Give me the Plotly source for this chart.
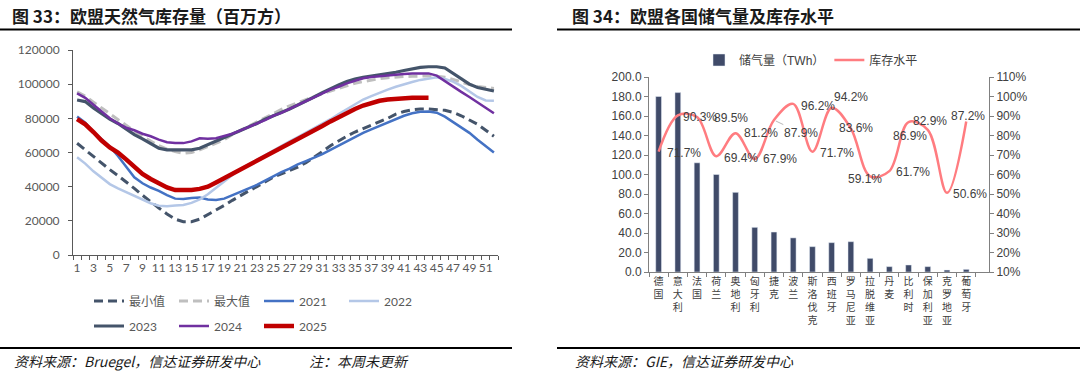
import plotly.graph_objects as go

# ---------------- Left chart data: EU gas storage (million m3) ----------------
weeks = list(range(1, 53))
week_tick_vals = weeks[::2]
week_tick_text = [str(w) for w in week_tick_vals]

min_vals = [65400, 61500, 57500, 53500, 50000, 46500, 43000, 39000, 35000, 31000,
            27500, 24000, 21000, 19500, 19500, 21000, 23500, 26000, 29000, 32000,
            35000, 37500, 40000, 43000, 45500, 47500, 49500, 51500, 54000, 57000,
            60500, 64000, 67000, 69500, 72000, 74000, 76000, 78000, 80000, 82500,
            84000, 85000, 85500, 85500, 85300, 84700, 83500, 81500, 79000, 76500,
            73000, 69500]
max_vals = [95500, 93000, 89500, 86000, 82500, 79000, 75500, 72500, 69500, 66500,
            64000, 62000, 60500, 59500, 60000, 61500, 63500, 65500, 67500, 70500,
            73000, 75500, 78000, 80500, 83000, 85200, 87300, 89300, 91000, 92700,
            94500, 96000, 97500, 99000, 100500, 101500, 102500, 103200, 103800, 104300,
            104500, 104600, 104800, 104800, 104600, 104000, 102800, 101200, 99800, 98700,
            98000, 97500]
y2021 = [81000, 77500, 72000, 67500, 63500, 58000, 52000, 45500, 42000, 39500,
         37500, 35000, 33000, 32800, 33300, 33600, 32500, 32200, 33000, 35000,
         37100, 39000, 41000, 43500, 46000, 48500, 50500, 53000, 55000, 57000,
         59000, 61500, 64000, 66500, 69000, 71500, 73500, 75500, 77500, 79500,
         81500, 83000, 83800, 84000, 83300, 81000, 78000, 75000, 71500, 67500,
         64000, 60000]
y2022 = [57200, 53500, 49000, 45000, 41500, 39000, 36800, 34800, 32500, 30300,
         28800, 28600, 29000, 29300, 30500, 32500, 35500, 39500, 43000, 46800,
         50500, 53000, 55800, 58500, 61000, 63800, 66500, 69000, 71500, 74000,
         76800, 79500, 82500, 85500, 88500, 91000, 93000, 95000, 96800, 98500,
         100000, 101300, 102500, 103400, 104000, 103000, 101500, 99000, 95500, 92500,
         90500, 90300]
y2023 = [90700, 89800, 86000, 82500, 79500, 77000, 73500, 70500, 68000, 65500,
         62500, 61500, 61500, 61300, 61500, 62500, 64500, 66500, 68500, 70500,
         72500, 75000, 77000, 79500, 81500, 83200, 85500, 87800, 90000, 92500,
         95000, 97500, 99500, 101500, 103000, 104000, 104700, 105200, 106200, 107000,
         108000, 109000, 109800, 110200, 110200, 109500, 106500, 103000, 100000, 98000,
         96800, 96000]
y2024 = [94600, 92000, 88000, 84000, 80000, 77000, 74500, 73000, 71000, 69500,
         67500, 66000, 65500, 65500, 66500, 68300, 68000, 68300, 69500, 71000,
         73000, 75000, 77000, 79000, 81500, 83200, 85500, 87800, 90000, 92300,
         94500, 96800, 98500, 100500, 102000, 103500, 104200, 104700, 105300, 105700,
         106000, 106300, 106300, 106300, 105000, 102000, 98500, 95500, 92500, 89500,
         86000, 83000]
y2025 = [79500, 76500, 72000, 67000, 63000, 60000, 56000, 51500, 47500, 44500,
         42000, 39500, 38000, 37800, 38000, 38700, 40000, 42500, 45000, 47500,
         50000, 52500, 54800, 57500, 60000, 62600, 65300, 68000, 70500, 73000,
         75500, 78200, 80800, 83200, 85500, 87500, 89000, 90300, 91000, 91500,
         91800, 92000, 92000, 92000]

series_names = ["最小值", "最大值", "2021", "2022", "2023", "2024", "2025"]
series_values = [min_vals, max_vals, y2021, y2022, y2023, y2024, y2025]

# ---------------- Right chart data: storage by country ----------------
countries = ["德国", "意大利", "法国", "荷兰", "奥地利", "匈牙利", "捷克", "波兰", "斯洛伐克",
             "西班牙", "罗马尼亚", "拉脱维亚", "丹麦", "比利时", "保加利亚", "克罗地亚", "葡萄牙"]
storage_twh = [180.0, 184.0, 112.0, 100.0, 81.7, 45.8, 41.0, 35.0, 26.0,
               30.1, 31.1, 14.0, 5.5, 7.2, 5.5, 2.0, 2.7]
fill_pct = [71.7, 90.3, 89.5, 69.4, 81.2, 67.9, 87.9, 96.2, 71.7,
            94.2, 83.6, 59.1, 61.7, 86.9, 82.9, 50.6, 87.2]

# ---------------- Styles ----------------
series_styles = [
    dict(color="#44546A", width=3, dash="9px,5px"),
    dict(color="#BFBFBF", width=3, dash="9px,5px"),
    dict(color="#4472C4", width=2.5, dash="solid"),
    dict(color="#B4C7E7", width=2.5, dash="solid"),
    dict(color="#44546A", width=3.2, dash="solid"),
    dict(color="#7030A0", width=2.5, dash="solid"),
    dict(color="#C00000", width=4.5, dash="solid"),
]
series_legend = ["legend", "legend", "legend", "legend", "legend2", "legend2", "legend2"]
# label offsets (px) of the percentage labels, relative to their points
label_dx = [25, 22, 34, 25, 25, 25, 27, 25, 25, 19, 5, -5, 24, 1, 2, 23, 2]
label_dy = [-1, -2, -1, -2, 0, 0, -13, -2, -1, 11, 0, -3, -1, -14, 9, -1, 5]

W, H = 1080, 381
AX_FONT_L = dict(family="Lato, Noto Sans CJK SC", size=12, color="#595959")
AX_FONT_R = dict(family="Liberation Sans, Noto Sans CJK SC", size=12, color="#404040")
CJK = "Noto Sans CJK SC"

fig = go.Figure()

for name, vals, st, lg in zip(series_names, series_values, series_styles, series_legend):
    fig.add_trace(go.Scatter(
        x=weeks[:len(vals)], y=vals, name=name, mode="lines",
        line=dict(color=st["color"], width=st["width"], dash=st["dash"]),
        xaxis="x", yaxis="y", legend=lg, hoverinfo="skip"))

fig.add_trace(go.Bar(
    x=countries, y=storage_twh, name="储气量（TWh）", marker_color="#404B69",
    width=0.3, xaxis="x2", yaxis="y2", legend="legend3", hoverinfo="skip"))
fig.add_trace(go.Scatter(
    x=countries, y=[p / 100 for p in fill_pct], name="库存水平", mode="lines",
    line=dict(color="#FF7C80", width=2.5, shape="spline", smoothing=1.0),
    xaxis="x2", yaxis="y3", legend="legend3", hoverinfo="skip"))

annotations = []
for i, (c, p) in enumerate(zip(countries, fill_pct)):
    if i == 6:
        annotations.append(dict(
            x=c, y=p / 100, xref="x2", yref="y3", text=f"{p:.1f}%",
            showarrow=True, arrowhead=0, arrowwidth=0.8, arrowcolor="#A6A6A6",
            ax=label_dx[i], ay=-label_dy[i], standoff=2,
            font=dict(family="Liberation Sans", size=12, color="#404040")))
    else:
        annotations.append(dict(
            x=c, y=p / 100, xref="x2", yref="y3", text=f"{p:.1f}%",
            showarrow=False, xshift=label_dx[i], yshift=label_dy[i],
            font=dict(family="Liberation Sans", size=12, color="#404040")))

# titles and sources
annotations += [
    dict(x=10 / W, y=1 - 15 / H, xref="paper", yref="paper", xanchor="left", yanchor="middle",
         text="<b>图 33：欧盟天然气库存量（百万方）</b>", showarrow=False,
         font=dict(family=CJK, size=17, color="#1a1a1a")),
    dict(x=570 / W, y=1 - 15 / H, xref="paper", yref="paper", xanchor="left", yanchor="middle",
         text="<b>图 34：欧盟各国储气量及库存水平</b>", showarrow=False,
         font=dict(family=CJK, size=17, color="#1a1a1a")),
    dict(x=12 / W, y=1 - 361 / H, xref="paper", yref="paper", xanchor="left", yanchor="middle",
         text="资料来源：Bruegel，信达证券研发中心", showarrow=False,
         font=dict(family=CJK, size=14, color="#1a1a1a", style="italic")),
    dict(x=307 / W, y=1 - 361 / H, xref="paper", yref="paper", xanchor="left", yanchor="middle",
         text="注：本周未更新", showarrow=False,
         font=dict(family=CJK, size=14, color="#1a1a1a", style="italic")),
    dict(x=573 / W, y=1 - 361 / H, xref="paper", yref="paper", xanchor="left", yanchor="middle",
         text="资料来源：GIE，信达证券研发中心", showarrow=False,
         font=dict(family=CJK, size=14, color="#1a1a1a", style="italic")),
]

shapes = [
    dict(type="line", xref="paper", yref="paper", x0=0, x1=512 / W, y0=1 - 29.5 / H, y1=1 - 29.5 / H,
         line=dict(color="#000000", width=2)),
    dict(type="line", xref="paper", yref="paper", x0=0, x1=512 / W, y0=1 - 348 / H, y1=1 - 348 / H,
         line=dict(color="#000000", width=2)),
    dict(type="line", xref="paper", yref="paper", x0=557 / W, x1=1, y0=1 - 29.5 / H, y1=1 - 29.5 / H,
         line=dict(color="#000000", width=2)),
    dict(type="line", xref="paper", yref="paper", x0=557 / W, x1=1, y0=1 - 348 / H, y1=1 - 348 / H,
         line=dict(color="#000000", width=2)),
]

legend_common = dict(orientation="h", xanchor="left", yanchor="middle", bgcolor="rgba(0,0,0,0)",
                     entrywidthmode="pixels", entrywidth=40,
                     font=dict(family="Lato, Noto Sans CJK SC", size=12, color="#595959"))

fig.update_layout(
    width=W, height=H, autosize=False,
    margin=dict(l=0, r=0, t=0, b=0, pad=0, autoexpand=False),
    paper_bgcolor="white", plot_bgcolor="white", showlegend=True, hovermode=False,
    font=dict(family=CJK),
    xaxis=dict(domain=[73 / W, 498 / W], anchor="y", range=[0.5, 52.5], automargin=False,
               tickmode="array", tickvals=week_tick_vals, ticktext=week_tick_text, tickangle=0,
               ticks="", showline=True, linecolor="#595959", linewidth=1,
               showgrid=False, zeroline=False, tickfont=AX_FONT_L, ticklabelstandoff=2,
               minor=dict(tickmode="linear", tick0=0.5, dtick=1, ticks="outside", ticklen=4,
                          tickcolor="#595959", showgrid=False)),
    yaxis=dict(domain=[1 - 255 / H, 1 - 50 / H], anchor="x", range=[0, 120000], dtick=20000,
               automargin=False,
               tickformat="d", ticks="outside", ticklen=4, tickcolor="#595959",
               showline=True, linecolor="#595959", linewidth=1, showgrid=False, zeroline=False,
               tickfont=AX_FONT_L, ticklabelstandoff=6),
    xaxis2=dict(domain=[649 / W, 989 / W], anchor="y2", type="category", automargin=False,
                tickmode="array", tickvals=countries, ticktext=["<br>".join(c) for c in countries],
                tickangle=0, tickson="boundaries", ticks="outside", ticklen=4, tickcolor="#808080",
                showline=True, linecolor="#808080", linewidth=1, showgrid=False, zeroline=False,
                tickfont=dict(family=CJK, size=10, color="#404040")),
    yaxis2=dict(domain=[1 - 272 / H, 1 - 77 / H], anchor="x2", range=[0, 200], dtick=20,
                automargin=False,
                tickformat=".1f", ticks="outside", ticklen=4, tickcolor="#808080",
                showline=True, linecolor="#808080", linewidth=1, showgrid=False, zeroline=False,
                tickfont=AX_FONT_R),
    yaxis3=dict(overlaying="y2", anchor="x2", side="right", range=[0.1, 1.1], dtick=0.1,
                automargin=False,
                tickformat=".0%", ticks="outside", ticklen=4, tickcolor="#808080",
                showline=True, linecolor="#808080", linewidth=1, showgrid=False, zeroline=False,
                tickfont=AX_FONT_R),
    legend=dict(legend_common, x=89 / W, y=1 - 301 / H),
    legend2=dict(legend_common, x=89 / W, y=1 - 326 / H),
    legend3=dict(orientation="h", xanchor="center", yanchor="middle", x=811 / W, y=1 - 60 / H,
                 bgcolor="rgba(0,0,0,0)",
                 font=dict(family="Liberation Sans, Noto Sans CJK SC", size=12, color="#404040")),
    annotations=annotations, shapes=shapes,
)

fig.write_html("out.html", config={"displayModeBar": False, "staticPlot": True},
               post_script="document.body.style.margin='0px';")
